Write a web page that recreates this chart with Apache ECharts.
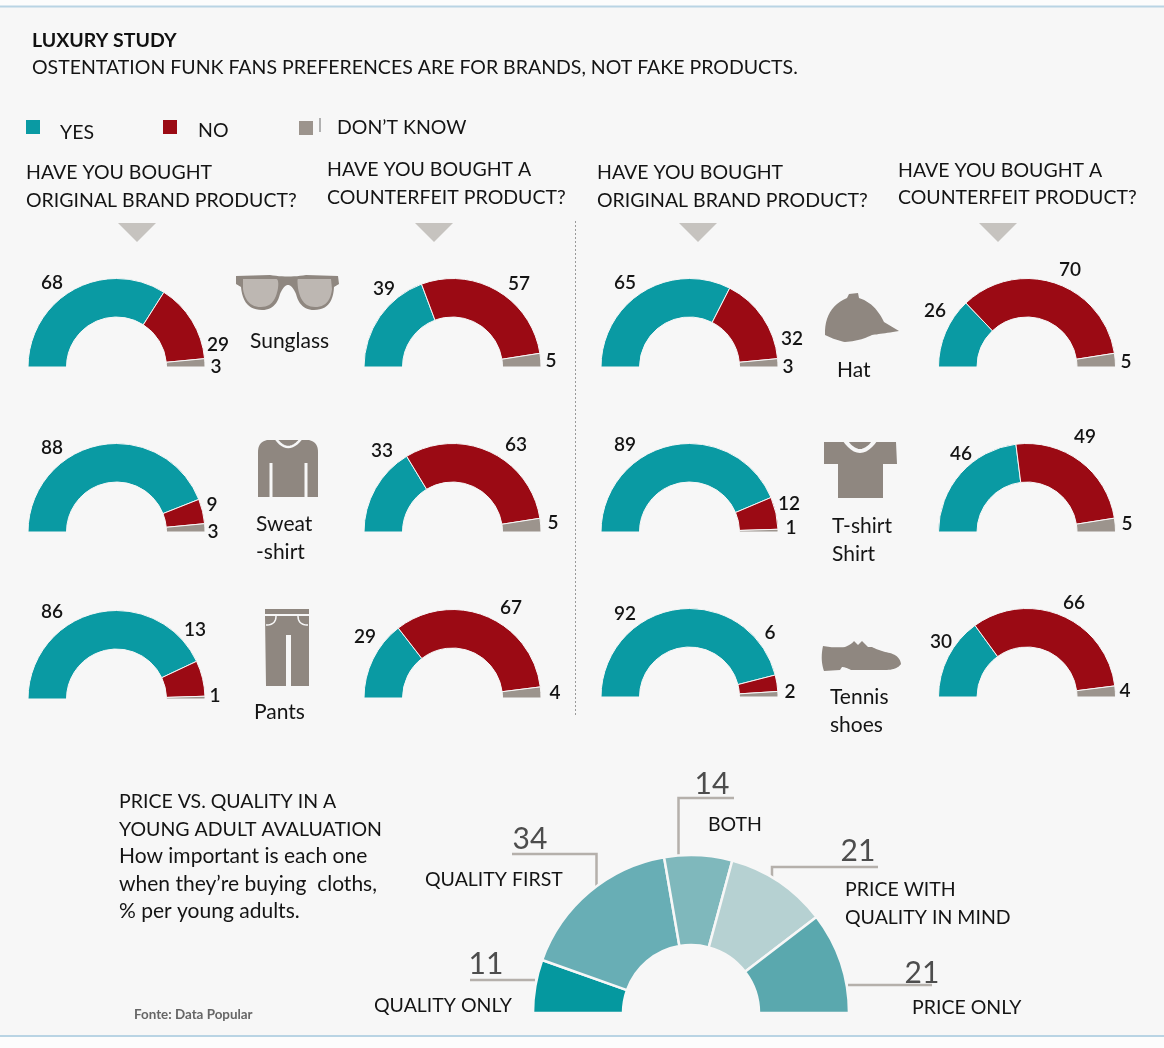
<!DOCTYPE html>
<html><head><meta charset="utf-8">
<style>html,body{margin:0;padding:0;background:#f7f7f7}#c{width:1164px;height:1048px}</style>
<script src="https://cdn.jsdelivr.net/npm/echarts@6/dist/echarts.min.js"></script>
</head><body><div id="c"></div>
<script>
// ---- data ----
const answers = ['YES', 'NO', 'DON’T KNOW'];
const sunglassOriginal = [68, 29, 3];
const sunglassCounterfeit = [39, 57, 5];
const sweatOriginal = [88, 9, 3];
const sweatCounterfeit = [33, 63, 5];
const pantsOriginal = [86, 13, 1];
const pantsCounterfeit = [29, 67, 4];
const hatOriginal = [65, 32, 3];
const hatCounterfeit = [26, 70, 5];
const shirtOriginal = [89, 12, 1];
const shirtCounterfeit = [46, 49, 5];
const shoesOriginal = [92, 6, 2];
const shoesCounterfeit = [30, 66, 4];
const priceCategories = ['QUALITY ONLY', 'QUALITY FIRST', 'BOTH', 'PRICE WITH QUALITY IN MIND', 'PRICE ONLY'];
const priceValues = [11, 34, 14, 21, 21];

// ---- layout (separate from the data) ----
const FONT = 'Lato';
const BG = '#f7f7f7';
const INK = '#141414';
const ICON = '#8f8780';
const CAPS = 19.5;
const answerColors = ['#0a9aa3', '#9b0a14', '#9c948d'];
const priceColors = ['#05989f', '#68aeb5', '#7fb8bc', '#b6d1d2', '#5aa8ae'];

const gauges = [
  {v: sunglassOriginal,   c: [116.5, 367], l: [[52,283],[218,345],[216,367]]},
  {v: sunglassCounterfeit,c: [452.5, 367], l: [[384,289],[519,284],[551,361]]},
  {v: hatOriginal,        c: [689.5, 367], l: [[625,283],[792,339],[788,367]]},
  {v: hatCounterfeit,     c: [1027, 367],  l: [[935,311],[1070,270],[1126,362]]},
  {v: sweatOriginal,      c: [116.5, 532], l: [[52,448],[212,505],[213,532]]},
  {v: sweatCounterfeit,   c: [452.5, 532], l: [[382,451],[516,445],[553,523]]},
  {v: shirtOriginal,      c: [689.5, 532], l: [[625,445],[789,504],[791,528]]},
  {v: shirtCounterfeit,   c: [1027, 532],  l: [[961,454],[1085,437],[1127,524]]},
  {v: pantsOriginal,      c: [116.5, 699], l: [[52,612],[195,630],[215,696]]},
  {v: pantsCounterfeit,   c: [452.5, 698], l: [[365,637],[511,608],[555,693]]},
  {v: shoesOriginal,      c: [689.5, 697], l: [[625,614],[770,633],[790,692]]},
  {v: shoesCounterfeit,   c: [1027, 697],  l: [[941,642],[1074,603],[1125,691]]}
];
const priceLabelPos = [[486,964],[530,839],[712,784],[858,851],[922,973]];

function gaugeSeries(g) {
  return {
    type: 'pie', silent: true, animation: false,
    center: g.c, radius: [50, 88.5], startAngle: 180, endAngle: 360,
    avoidLabelOverlap: false, color: answerColors,
    itemStyle: {borderColor: BG, borderWidth: 1},
    label: {show: true, position: 'outside', formatter: '{c}', fontFamily: FONT, fontSize: 19, color: INK, fontWeight: 600},
    labelLine: {show: false},
    labelLayout: p => ({x: g.l[p.dataIndex][0], y: g.l[p.dataIndex][1], align: 'center', verticalAlign: 'middle'}),
    data: answers.map((n, i) => ({name: n, value: g.v[i]}))
  };
}
const priceSeries = {
  type: 'pie', silent: true, animation: false,
  center: [691, 1013], radius: [68, 158], startAngle: 180, endAngle: 360,
  avoidLabelOverlap: false, color: priceColors,
  itemStyle: {borderColor: BG, borderWidth: 2.5},
  label: {show: true, position: 'outside', formatter: '{c}', fontFamily: FONT, fontSize: 30, color: '#4d4d4d'},
  labelLine: {show: false},
  labelLayout: p => ({x: priceLabelPos[p.dataIndex][0], y: priceLabelPos[p.dataIndex][1], align: 'center', verticalAlign: 'middle'}),
  data: priceCategories.map((n, i) => ({name: n, value: priceValues[i]}))
};

function T(text, x, y, s) {
  return {type: 'text', x, y: s ? y + 1 : y, silent: true, style: {text, font: `400 ${s || 21}px ${FONT}`, fill: INK, verticalAlign: 'middle', align: 'left'}};
}
function L(pts, color, w, dash) {
  return {type: 'polyline', silent: true, shape: {points: pts}, style: {stroke: color, lineWidth: w, fill: null, lineDash: dash}};
}
// flatten a tiny "M/L/Q/Z" outline into points for the icon silhouettes
function outline(d) {
  const t = d.trim().split(/[\s,]+|(?=[MLQZ])/).filter(Boolean);
  const pts = [];
  let i = 0, cmd = null;
  const num = () => parseFloat(t[i++]);
  while (i < t.length) {
    if (/^[MLQZ]/.test(t[i])) {
      cmd = t[i][0];
      if (t[i].length > 1) t[i] = t[i].slice(1); else i++;
      if (cmd === 'Z') continue;
    }
    if (cmd === 'M' || cmd === 'L') {
      pts.push([num(), num()]);
    } else if (cmd === 'Q') {
      const p0 = pts[pts.length - 1], cx = num(), cy = num(), x = num(), y = num();
      for (let k = 1; k <= 12; k++) {
        const u = k / 12, v = 1 - u;
        pts.push([v*v*p0[0] + 2*u*v*cx + u*u*x, v*v*p0[1] + 2*u*v*cy + u*u*y]);
      }
    }
  }
  return pts;
}
function P(d, fill) {
  return {type: 'polygon', silent: true, shape: {points: outline(d)}, style: {fill}};
}
function S(d, w) {
  return L(outline(d), BG, w);
}
function Tri(x0, x1, y0, y1) {
  return {type: 'polygon', silent: true, shape: {points: [[x0,y0],[x1,y0],[(x0+x1)/2,y1]]}, style: {fill: '#c6c3bf'}};
}

const headerA = ['HAVE YOU BOUGHT', 'ORIGINAL BRAND PRODUCT?'];
const headerB = ['HAVE YOU BOUGHT A', 'COUNTERFEIT PRODUCT?'];

const elements = [
  {type: 'rect', silent: true, shape: {x: 0, y: 0, width: 1164, height: 6}, style: {fill: '#fcfcfc'}},
  {type: 'rect', silent: true, shape: {x: 0, y: 1037, width: 1164, height: 11}, style: {fill: '#fcfcfc'}},
  L([[0,6.5],[1164,6.5]], '#b9d4e4', 2),
  L([[0,1036],[1164,1036]], '#b9d4e4', 2),
  T(headerA[0], 26, 172, CAPS), T(headerA[1], 26, 200, CAPS),
  T(headerB[0], 327, 169, CAPS), T(headerB[1], 327, 197, CAPS),
  T(headerA[0], 597, 172, CAPS), T(headerA[1], 597, 200, CAPS),
  T(headerB[0], 898, 170, CAPS), T(headerB[1], 898, 197, CAPS),
  Tri(118,156,223,242), Tri(415,453,223,242), Tri(679,717,223,242), Tri(979,1017,223,242),
  L([[575.5,221],[575.5,715]], '#9a9a9a', 1, [2,2]),
  L([[320,118],[320,132]], '#9a9a9a', 1.5),

  T('Sunglass', 250, 341), T('Hat', 837, 370),
  T('Sweat', 256, 524), T('-shirt', 256, 552),
  T('T-shirt', 832, 526), T('Shirt', 832, 554),
  T('Pants', 254, 712), T('Tennis', 830, 697), T('shoes', 830, 725),

  // sunglasses
  P('M236,276 L270,275 Q288,278 306,275 L338,276 L339,284 L334,287 Q333,310 314,310 Q300,310 296,294 Q292,285 288,285 Q284,285 280,294 Q276,310 262,310 Q243,310 241,287 L236,284 Z', ICON),
  P('M243,279 L276,279 Q279,279 278,288 Q275,307 261,307 Q246,307 243,289 Z', '#bdb7b2'),
  P('M298,279 L331,279 L332,289 Q330,307 315,307 Q301,307 298,288 Q297,279 298,279 Z', '#bdb7b2'),
  // sweater
  P('M267,440 L309,440 Q318,442 318,452 L318,497 L258,497 L258,452 Q258,442 267,440 Z', ICON),
  L([[271,463],[271,497]], BG, 3), L([[306,463],[306,497]], BG, 3),
  S('M276,439 Q288,455 301,439', 2.5),
  // pants
  P('M265,609 L309,609 L309,614 L265,614 Z', ICON),
  P('M265,616 L309,616 L309,686 L291,686 L291,635 L286,635 L286,686 L266,686 Z', ICON),
  S('M266,625 Q276,625 276,616', 1.5),
  S('M298,616 Q298,625 308,625', 1.5),
  // hat
  P('M825,335 Q824,308 847,298 L849,294 L858,293 L859,298 Q875,303 884,322 L899,331 Q880,334 872,335 Q860,341 845,342 Q835,340 825,335 Z', ICON),
  // t-shirt
  P('M824,442 L896,442 L897,464 L883,464 L883,498 L838,498 L838,464 L824,464 Z', ICON),
  S('M844,439 Q860,463 876,439', 4),
  // shoe
  P('M823,646 Q833,648 845,647 Q852,644 854,641 L858,645 L862,641 L868,647 L872,647 Q880,651 890,653 Q900,656 901,664 Q897,670 885,670 L851,670 Q845,667 842,667 L840,670 L824,671 Q820,660 823,646 Z', ICON),

  // price vs quality text
  T('PRICE VS. QUALITY IN A', 119, 801, CAPS), T('YOUNG ADULT AVALUATION', 119, 829, CAPS),
  T('How important is each one', 119, 856), T('when they’re buying  cloths,', 119, 884), T('% per young adults.', 119, 911),
  {type: 'text', x: 134, y: 1015, silent: true, style: {text: 'Fonte: Data Popular', font: 'bold 13.4px ' + FONT, fill: '#666', verticalAlign: 'middle'}},
  T('QUALITY ONLY', 374, 1005, CAPS), T('QUALITY FIRST', 425, 879, CAPS), T('BOTH', 708, 824, CAPS),
  T('PRICE WITH', 845, 889, CAPS), T('QUALITY IN MIND', 845, 917, CAPS), T('PRICE ONLY', 912, 1007, CAPS),

  L([[470,980],[535,980]], '#b5b0ab', 2.5),
  L([[512,854],[596.5,854],[596.5,887]], '#b5b0ab', 2.5),
  L([[678.5,856],[678.5,798],[734,798]], '#b5b0ab', 2.5),
  L([[772,877],[772,867],[878,867]], '#b5b0ab', 2.5),
  L([[848,985],[932,985]], '#b5b0ab', 2.5)
];

function legendItem(name, left, top, pad) {
  return {
    data: [name], left, top, orient: 'horizontal', selectedMode: false, padding: 0,
    itemWidth: 16, itemHeight: 16, icon: 'rect',
    formatter: n => '{a|' + n + '}',
    textStyle: {rich: {a: {fontFamily: FONT, fontSize: CAPS, color: INK, padding: pad}}}
  };
}

const chart = echarts.init(document.getElementById('c'), null, {renderer: 'canvas'});
chart.setOption({
  backgroundColor: BG,
  animation: false,
  title: {
    left: 32, top: 31, padding: 0, itemGap: 7,
    text: 'LUXURY STUDY', subtext: 'OSTENTATION FUNK FANS PREFERENCES ARE FOR BRANDS, NOT FAKE PRODUCTS.',
    textStyle: {fontFamily: FONT, fontSize: CAPS, fontWeight: 700, color: '#111'},
    subtextStyle: {fontFamily: FONT, fontSize: CAPS, color: INK}
  },
  legend: [
    legendItem(answers[0], 24, 118, [12, 0, 0, 14]),
    legendItem(answers[1], 161, 118, [8, 0, 0, 15]),
    legendItem(answers[2], 297, 118, [0, 0, 0, 18])
  ],
  graphic: {elements},
  series: gauges.map(gaugeSeries).concat([priceSeries])
});
</script></body></html>
